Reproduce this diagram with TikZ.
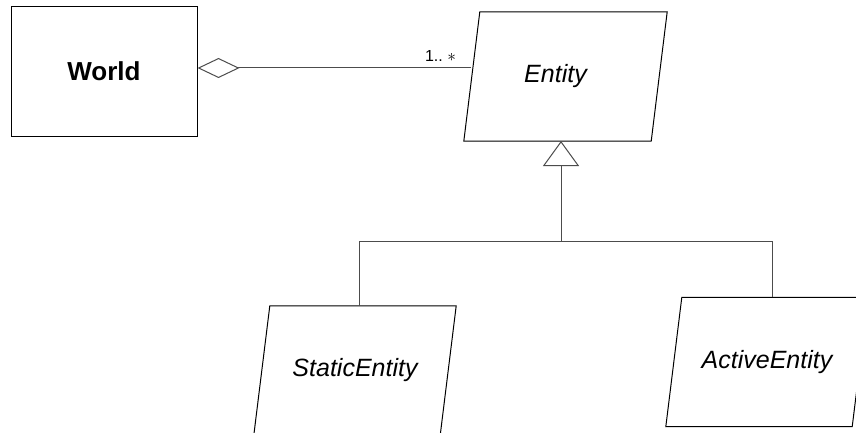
\documentclass[tikz,border=0pt]{standalone}
\usepackage{fontspec}
\setmainfont{Liberation Sans}
\usetikzlibrary{arrows.meta,calc}
\tikzset{
  shapeline/.style={draw=black, line width=1pt},
  conn/.style={draw=black!70, line width=1pt},
  classbox/.style={shapeline, inner sep=0pt, minimum width=186pt, minimum height=129pt,
    font=\fontsize{26}{30}\selectfont\bfseries},
  parabox/.style={inner sep=0pt, minimum width=#1, minimum height=129pt,
    font=\fontsize{25}{30}\selectfont\itshape},
  multlabel/.style={inner sep=0pt, font=\fontsize{16}{19}\selectfont},
}
\newcommand{\drawpara}[1]{%
  \draw[shapeline] (#1.south west) -- ([xshift=16pt]#1.north west) -- (#1.north east)
    -- ([xshift=-16pt]#1.south east) -- cycle;}
\begin{document}
\begin{tikzpicture}[x=1pt,y=-1pt]
\useasboundingbox (0,0) rectangle (856,433);
\clip (0,0) rectangle (856,433);
\fill[white] (0,0) rectangle (856,433);

% nodes
\node[classbox] (world) at (104,71.5) {World};
\node[parabox=203pt, label={[xshift=-10pt,font=\fontsize{25}{30}\selectfont\itshape]center:Entity}] (entity) at (565.5,76.5) {};
\drawpara{entity}
\node[parabox=202pt] (static) at (355,370.5) {StaticEntity};
\drawpara{static}
\node[parabox=202pt] (active) at (767,362) {ActiveEntity};
\drawpara{active}

% aggregation
\coordinate (aggend) at (471,68);
\draw[conn, {Diamond[open,fill=white,length=42pt,width=20pt,line width=1pt]}-] ([yshift=3.5pt]world.east) -- (aggend);
\node[multlabel] (mult) at (440.5,56) {1..~$\ast$};

% inheritance
\coordinate (hub) at (561,241);
\coordinate (apex) at (561,141);
\draw[conn, -{Triangle[open,fill=white,length=25pt,width=36pt,line width=1pt]}] (hub) -- (apex);
\draw[conn] ([xshift=4pt]static.north) |- (hub);
\draw[conn] ([xshift=5pt]active.north) |- (hub);
\end{tikzpicture}
\end{document}
